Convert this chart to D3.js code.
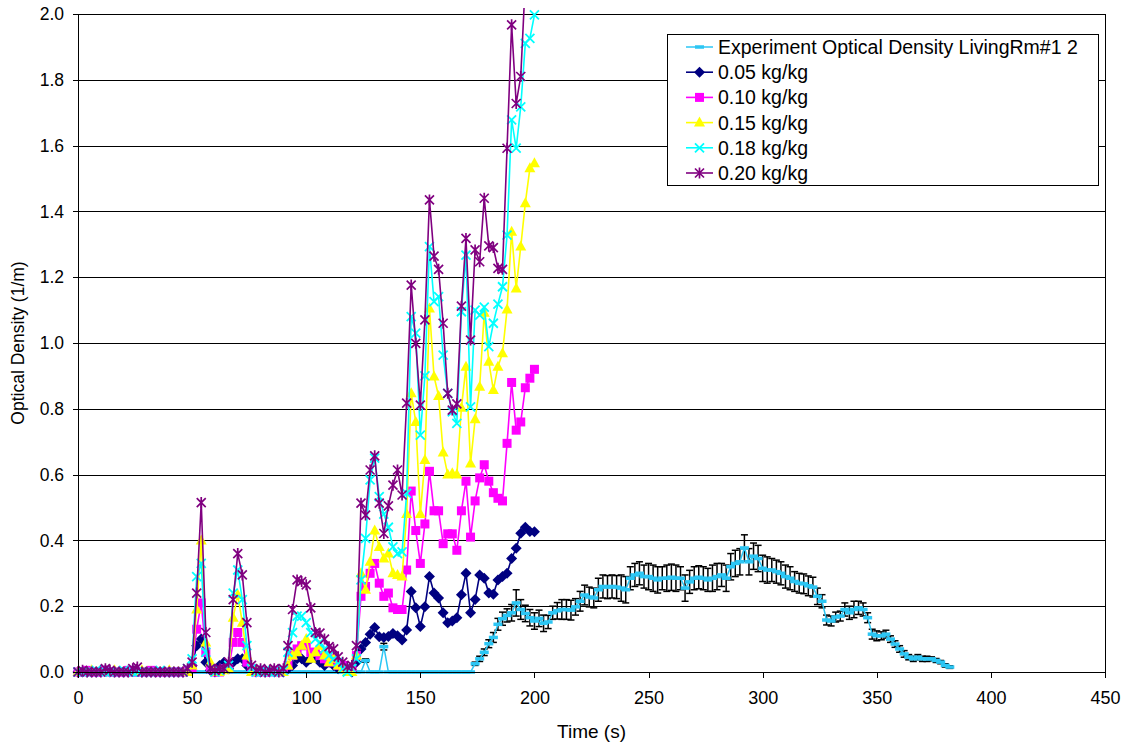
<!doctype html>
<html>
<head>
<meta charset="utf-8">
<title>Optical Density LivingRm</title>
<script src="https://d3js.org/d3.v7.min.js"></script>
<style>
  body { margin: 0; background: #fff; }
  text { font-family: Arial, "Liberation Sans", sans-serif; fill: #000; }
  .grid line { stroke: #000; stroke-width: 1px; shape-rendering: crispEdges; }
  .grid path { display: none; }
  .axis path, .axis line { stroke: #000; stroke-width: 1px; shape-rendering: crispEdges; }
</style>
</head>
<body>
<div id="chart"></div>
<script>
// model output times (s)
var modelTime = [0,2,4,6,8,10,12,14,16,18,20,22,24,26,28,30,32,34,36,38,40,42,44,46,48,
  50,52,54,56,58,60,62,64,66,68,70,72,74,76,78,80,82,84,86,88,90,
  92,94,96,98,100,102,104,106,108,110,112,114,116,118,120,122,
  124,126,128,130,132,134,136,138,140,142,144,146,148,150,152,154,156,158,160,162,
  164,166,168,170,172,174,176,178,180,182,184,186,188,190,192,194,196,198,200];

var od005 = [0,0,0,0,0,0.005,0.005,0,0,0,0,0,0.005,0.005,0,0,0,0,0,0,0,0,0,0,0.005,
  0.02,0.08,0.10,0.03,0.005,0,
  0.02,0.03,0.01,0.03,0.04,0.04,0.02,0.005,
  0,0,0.005,0,0,0.005,0,
  0.01,0.02,0.04,0.04,0.03,0.04,0.05,0.03,0.02,0.03,0.02,0.01,0.02,0.01,0,0.03,
  0.07,0.09,0.115,0.135,0.107,0.105,0.108,0.117,0.11,0.097,0.128,0.245,0.195,0.138,0.198,0.29,
  0.24,0.225,0.18,0.15,0.155,0.165,0.235,0.30,0.18,0.22,0.295,0.285,0.24,0.236,0.28,0.29,
  0.30,0.345,0.376,0.422,0.44,0.427,0.426];

var od010 = [0,0,0.005,0,0,0,0.005,0,0,0,0,0.005,0,0,0,0,0.005,0,0,0,0,0,0,0,0.005,
  0.01,0.13,0.21,0.06,0.01,0,
  0,0.01,0.01,0.09,0.12,0.09,0.03,0.01,
  0,0.005,0,0,0.005,0,0.005,
  0.02,0.05,0.07,0.08,0.08,0.06,0.06,0.05,0.04,0.03,0.04,0.02,0.02,0.01,0.01,0.05,
  0.23,0.26,0.30,0.33,0.27,0.23,0.24,0.195,0.19,0.19,0.31,0.55,0.43,0.33,0.45,0.61,
  0.49,0.49,0.39,0.42,0.42,0.37,0.49,0.58,0.41,0.52,0.59,0.63,0.58,0.545,0.528,0.52,
  0.695,0.88,0.735,0.76,0.864,0.893,0.92];

var od015 = [0,0,0,0.005,0,0,0,0,0.005,0,0,0,0,0,0.005,0,0,0,0,0,0.005,0,0,0,0,
  0.02,0.19,0.40,0.09,0.03,0,
  0,0.005,0.01,0.165,0.235,0.15,0.05,0,
  0.005,0,0,0.005,0,0,0,
  0.02,0.05,0.06,0.08,0.10,0.04,0.06,0.08,0.05,0.03,0.04,0.02,0.01,0,0,0.05,
  0.30,0.25,0.335,0.43,0.38,0.345,0.36,0.30,0.295,0.29,0.48,0.847,0.76,0.48,0.644,1.105,
  0.898,0.839,0.667,0.60,0.604,0.60,0.803,0.928,0.634,0.768,0.867,1.092,0.943,0.857,0.928,0.969,
  1.102,1.338,1.166,1.293,1.425,1.531,1.546];

var od018 = [0,0,0,0,0.005,0,0,0,0,0,0.005,0,0,0,0,0,0,0,0.005,0,0,0,0,0,0.01,
  0.04,0.29,0.33,0.06,0.01,0,
  0.005,0.01,0.02,0.24,0.31,0.22,0.08,0.01,
  0,0,0.005,0,0,0,0.005,
  0.06,0.12,0.17,0.17,0.15,0.12,0.10,0.09,0.07,0.05,0.04,0.03,0.01,0,0.01,0.04,
  0.28,0.406,0.584,0.65,0.533,0.48,0.44,0.38,0.36,0.365,0.543,1.08,1.03,0.72,0.90,1.293,
  1.126,1.141,0.963,0.847,0.791,0.756,1.095,1.267,0.806,1.10,1.085,1.109,0.989,1.06,1.118,1.171,
  1.328,1.678,1.592,1.718,1.911,1.926,1.997];

var od020 = [0,0.005,0,0,0,0,0.01,0.005,0,0,0,0,0.01,0.015,0,0,0,0,0,0,0,0,0,0,0.01,
  0.03,0.24,0.515,0.12,0.01,0.005,
  0.01,0.01,0.03,0.22,0.36,0.295,0.15,0.02,
  0.005,0.01,0,0.005,0.01,0,0.01,
  0.08,0.19,0.28,0.275,0.265,0.195,0.12,0.118,0.10,0.077,0.07,0.046,0.03,0.016,0.02,0.08,
  0.513,0.477,0.614,0.657,0.513,0.421,0.505,0.568,0.614,0.538,0.817,1.176,0.999,0.811,1.07,1.435,
  1.264,1.224,1.06,0.847,0.796,0.815,1.112,1.318,1.009,1.283,1.247,1.44,1.295,1.29,1.227,1.224,
  1.592,1.967,1.728,1.81,2.1,2.3,2.5];

// experiment, LivingRm#1 2
var expTime = [0,2,4,6,8,10,12,14,16,18,20,22,24,26,28,30,32,34,36,38,40,42,44,46,48,
  50,52,54,56,58,60,62,64,66,68,70,72,74,76,78,80,82,84,86,88,90,92,94,96,98,
  100,102,104,106,108,110,112,114,116,118,120,122,124,126,128,130,132,134,136,138,
  140,142,144,146,148,150,152,154,156,158,160,162,164,166,168,170,172,
  174,176,178,180,182,184,186,188,190,192,194,196,198,200,202,204,206,208,210,212,
  214,216,218,220,222,224,226,228,230,232,234,236,238,240,242,244,246,248,250,252,
  254,256,258,260,262,264,266,268,270,272,274,276,278,280,282,284,286,288,290,292,
  294,296,298,300,302,304,306,308,310,312,314,316,318,320,322,324,326,328,330,332,
  334,336,338,340,342,344,346,348,350,352,354,356,358,360,362,364,366,368,370,372,
  374,376,378,380,382];

var expOD = [0,0,0,0,0,0,0,0,0,0,0,0,0,0,0,0,0,0,0,0,0,0,0,0,0,
  0,0,0,0,0,0,0,0,0,0,0,0,0,0,0,0,0,0,0,0,0,0,0,0,0,
  0,0,0,0,0,0,0,0,0,0,0,0,0,0.035,0,0,0,0.077,0,0,
  0,0,0,0,0,0,0,0,0,0,0,0,0,0,0,0,0,
  0.025,0.04,0.06,0.086,0.105,0.145,0.162,0.172,0.18,0.21,0.19,0.178,0.165,0.155,0.163,0.148,0.152,0.18,0.186,0.19,
  0.19,0.188,0.198,0.215,0.234,0.228,0.225,0.25,0.26,0.258,0.26,0.258,0.255,0.25,0.285,0.295,0.3,0.29,0.29,0.285,
  0.28,0.285,0.285,0.288,0.285,0.285,0.255,0.274,0.285,0.288,0.285,0.28,0.285,0.29,0.295,0.285,0.32,0.33,0.335,0.377,
  0.335,0.352,0.345,0.315,0.31,0.31,0.305,0.3,0.29,0.285,0.275,0.27,0.268,0.262,0.258,0.23,0.215,0.158,0.155,0.167,
  0.17,0.19,0.18,0.19,0.195,0.19,0.165,0.115,0.11,0.11,0.115,0.1,0.085,0.07,0.055,0.045,0.04,0.045,0.04,0.04,
  0.04,0.035,0.03,0.02,0.015];

var expErr = [0,0,0,0,0,0,0,0,0,0,0,0,0,0,0,0,0,0,0,0,0,0,0,0,0,
  0,0,0,0,0,0,0,0,0,0,0,0,0,0,0,0,0,0,0,0,0,0,0,0,0,
  0,0,0,0,0,0,0,0,0,0,0,0,0,0.005,0,0,0,0.01,0,0,
  0,0,0,0,0,0,0,0,0,0,0,0,0,0,0,0,0,
  0.005,0.008,0.01,0.012,0.015,0.018,0.02,0.02,0.025,0.04,0.03,0.025,0.025,0.025,0.025,0.025,0.02,0.02,0.025,0.03,
  0.03,0.03,0.025,0.03,0.03,0.03,0.03,0.035,0.035,0.035,0.035,0.035,0.04,0.04,0.035,0.035,0.035,0.035,0.04,0.04,
  0.04,0.035,0.04,0.04,0.04,0.035,0.04,0.035,0.035,0.035,0.035,0.035,0.04,0.04,0.035,0.04,0.04,0.04,0.04,0.04,
  0.04,0.04,0.04,0.04,0.04,0.035,0.035,0.035,0.035,0.035,0.03,0.03,0.03,0.03,0.03,0.025,0.02,0.015,0.015,0.015,
  0.015,0.02,0.02,0.025,0.02,0.02,0.015,0.015,0.015,0.012,0.012,0.01,0.01,0.01,0.01,0.008,0.008,0.008,0.008,0.008,
  0.006,0.006,0.005,0.005,0.004];

var seriesNames = ["Experiment Optical Density LivingRm#1 2", "0.05 kg/kg", "0.10 kg/kg",
                   "0.15 kg/kg", "0.18 kg/kg", "0.20 kg/kg"];
var xTicks = [0, 50, 100, 150, 200, 250, 300, 350, 400, 450];
var yTicks = [0, 0.2, 0.4, 0.6, 0.8, 1.0, 1.2, 1.4, 1.6, 1.8, 2.0];

var width = 1132, height = 747;
// plot area edges in pixels
var plotL = 78, plotR = 1105, plotT = 14, plotB = 672;

var svg = d3.select("#chart").append("svg")
    .attr("width", width)
    .attr("height", height);

svg.append("rect").attr("width", width).attr("height", height).attr("fill", "#fff");

var x = d3.scaleLinear().domain([0, 450]).range([plotL, plotR]);
var y = d3.scaleLinear().domain([0, 2]).range([plotB, plotT]);

// gridlines
svg.append("g")
    .attr("class", "grid")
    .attr("transform", "translate(" + plotL + ",0)")
    .call(d3.axisLeft(y).tickValues(yTicks.slice(1)).tickSize(-(plotR - plotL)).tickFormat(""));

// right border of plot area
svg.append("line")
    .attr("x1", plotR + 0.5).attr("x2", plotR + 0.5)
    .attr("y1", plotT).attr("y2", plotB)
    .attr("stroke", "#000").attr("stroke-width", 1);

svg.append("clipPath").attr("id", "plotclip")
  .append("rect")
    .attr("x", plotL - 8).attr("y", plotT - 6)
    .attr("width", plotR - plotL + 16).attr("height", plotB - plotT + 20);

var plot = svg.append("g").attr("clip-path", "url(#plotclip)");

// marker drawing
function marker(g, type, color) {
  if (type === "diamond") {
    g.append("path").attr("d", "M0,-5.5L5.5,0L0,5.5L-5.5,0Z").attr("fill", color);
  } else if (type === "square") {
    g.append("rect").attr("x", -4.5).attr("y", -4.5).attr("width", 9).attr("height", 9).attr("fill", color);
  } else if (type === "triangle") {
    g.append("path").attr("d", "M0,-6L5.5,4L-5.5,4Z").attr("fill", color);
  } else if (type === "x") {
    g.append("path").attr("d", "M-4.5,-4.5L4.5,4.5M-4.5,4.5L4.5,-4.5").attr("stroke", color).attr("stroke-width", 1.8).attr("fill", "none");
  } else if (type === "star") {
    g.append("path").attr("d", "M-4.5,-4.5L4.5,4.5M-4.5,4.5L4.5,-4.5M0,-5.5L0,5.5").attr("stroke", color).attr("stroke-width", 1.7).attr("fill", "none");
  } else if (type === "dash") {
    g.append("rect").attr("x", -4.5).attr("y", -1.75).attr("width", 9).attr("height", 3.5).attr("fill", color);
  }
}

var expColor = "#2CC6F4";

// experiment
var expData = expTime.map(function(t, i) { return {t: t, v: expOD[i], e: expErr[i]}; });
var line = d3.line().x(function(d) { return x(d.t); }).y(function(d) { return y(d.v); });

plot.append("g").selectAll("g")
    .data(expData.filter(function(d) { return d.e > 0; }))
  .enter().append("g")
    .each(function(d) {
      var g = d3.select(this);
      var cx = x(d.t);
      g.append("line").attr("x1", cx).attr("x2", cx)
        .attr("y1", y(d.v - d.e)).attr("y2", y(d.v + d.e));
      g.append("line").attr("x1", cx - 3.5).attr("x2", cx + 3.5)
        .attr("y1", y(d.v + d.e)).attr("y2", y(d.v + d.e));
      g.append("line").attr("x1", cx - 3.5).attr("x2", cx + 3.5)
        .attr("y1", y(d.v - d.e)).attr("y2", y(d.v - d.e));
    })
    .attr("stroke", "#000").attr("stroke-width", 1.5);

plot.append("path").datum(expData)
    .attr("fill", "none").attr("stroke", expColor).attr("stroke-width", 1.5)
    .attr("d", line);

plot.append("g").selectAll("g").data(expData).enter().append("g")
    .attr("transform", function(d) { return "translate(" + x(d.t) + "," + y(d.v) + ")"; })
    .each(function() { marker(d3.select(this), "dash", expColor); });

// model series
var models = [
  {values: od005, color: "#000080", type: "diamond"},
  {values: od010, color: "#FF00FF", type: "square"},
  {values: od015, color: "#FFFF00", type: "triangle"},
  {values: od018, color: "#00FFFF", type: "x"},
  {values: od020, color: "#800080", type: "star"}
];

models.forEach(function(s) {
  var data = modelTime.map(function(t, i) { return {t: t, v: s.values[i]}; });
  plot.append("path").datum(data)
      .attr("fill", "none").attr("stroke", s.color).attr("stroke-width", 1.6)
      .attr("d", line);
  plot.append("g").selectAll("g").data(data).enter().append("g")
      .attr("transform", function(d) { return "translate(" + x(d.t) + "," + y(d.v) + ")"; })
      .each(function() { marker(d3.select(this), s.type, s.color); });
});

// axes
var xAxis = svg.append("g")
    .attr("class", "axis")
    .attr("transform", "translate(0," + plotB + ")")
    .call(d3.axisBottom(x).tickValues(xTicks).tickSize(6).tickPadding(13).tickSizeOuter(0));
xAxis.selectAll("text").style("font-size", "18px");

var yAxis = svg.append("g")
    .attr("class", "axis")
    .attr("transform", "translate(" + plotL + ",0)")
    .call(d3.axisLeft(y).tickValues(yTicks).tickFormat(d3.format(".1f")).tickSize(5).tickPadding(9).tickSizeOuter(0));
yAxis.selectAll("text").style("font-size", "17.5px");

svg.append("text")
    .attr("x", (plotL + plotR) / 2).attr("y", 738)
    .attr("text-anchor", "middle")
    .style("font-size", "19px")
    .text("Time (s)");

svg.append("text")
    .attr("transform", "translate(24," + ((plotT + plotB) / 2) + ") rotate(-90)")
    .attr("text-anchor", "middle")
    .style("font-size", "17.5px")
    .text("Optical Density (1/m)");

// legend
var legend = svg.append("g");
legend.append("rect")
    .attr("x", 667.5).attr("y", 34.5).attr("width", 431).attr("height", 151)
    .attr("fill", "#fff").attr("stroke", "#000").attr("stroke-width", 1);

var legendItems = [
  {color: expColor, type: "dash"},
  {color: "#000080", type: "diamond"},
  {color: "#FF00FF", type: "square"},
  {color: "#FFFF00", type: "triangle"},
  {color: "#00FFFF", type: "x"},
  {color: "#800080", type: "star"}
];

legendItems.forEach(function(it, i) {
  var cy = 47 + i * 25.2;
  var g = legend.append("g");
  g.append("line").attr("x1", 686).attr("x2", 713).attr("y1", cy).attr("y2", cy)
    .attr("stroke", it.color).attr("stroke-width", i === 0 ? 1.5 : 1.6);
  var m = g.append("g").attr("transform", "translate(699.5," + cy + ")");
  marker(m, it.type, it.color);
  g.append("text").attr("x", 718).attr("y", cy + 7)
    .style("font-size", "19.5px")
    .text(seriesNames[i]);
});
</script>
</body>
</html>
